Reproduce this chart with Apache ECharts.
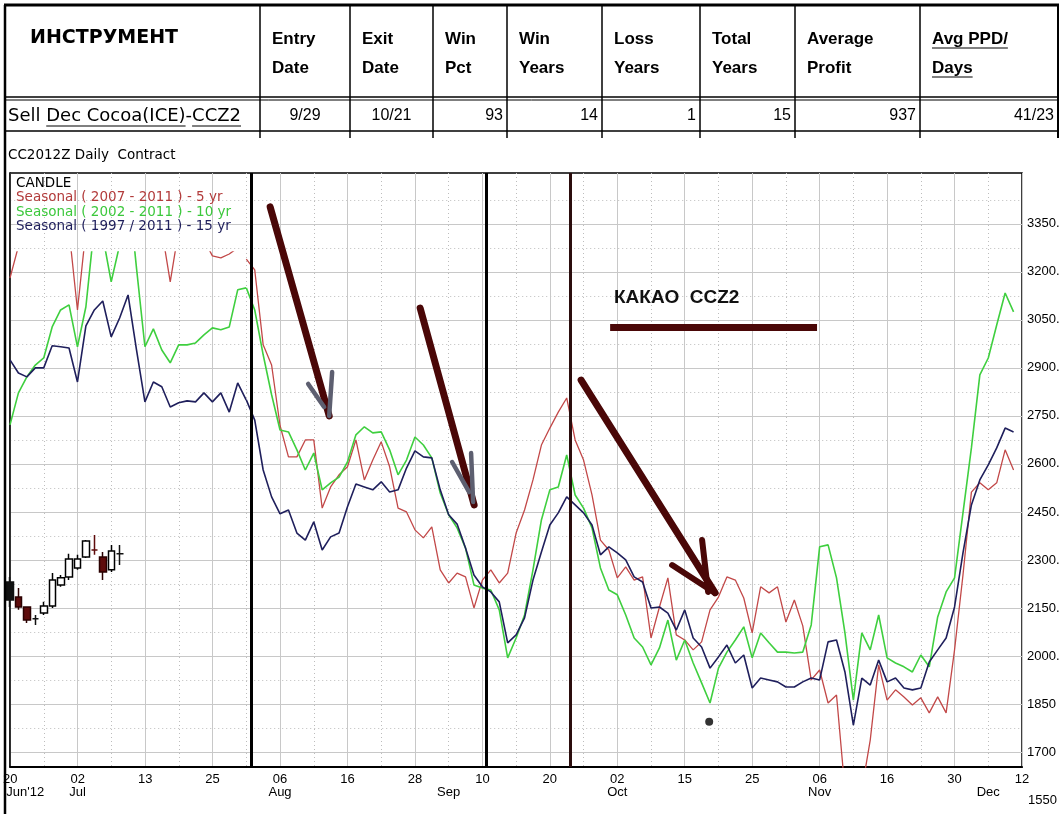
<!DOCTYPE html>
<html><head><meta charset="utf-8">
<script src="https://cdn.jsdelivr.net/npm/echarts@6/dist/echarts.min.js"></script>
<style>html,body{margin:0;padding:0;background:#fff}#c{width:1063px;height:814px}</style>
</head><body><div id="c"></div>
<script>
// ---------------- data ----------------
const tableHeaderTop = ['ИНСТРУМЕНТ','Entry','Exit','Win','Win','Loss','Total','Average','Avg PPD/'];
const tableHeaderBottom = ['','Date','Date','Pct','Years','Years','Years','Profit','Days'];
const tableRow = ['Sell Dec Cocoa(ICE)-CCZ2','9/29','10/21','93','14','1','15','937','41/23'];
const tableRowAlign = ['left','center','center','right','right','right','right','right','right'];

const chartTitle = 'CC2012Z Daily  Contract';
const legendItems = ['CANDLE','Seasonal ( 2007 - 2011 ) - 5 yr','Seasonal ( 2002 - 2011 ) - 10 yr','Seasonal ( 1997 / 2011 ) - 15 yr'];
const noteText = 'КАКАО  CCZ2';

const dayTickLabels = ['20','02','13','25','06','16','28','10','20','02','15','25','06','16','30','12'];
const monthLabels = ["Jun'12",'Jul','Aug','Sep','Oct','Nov','Dec'];
const monthPositions = [0, 8, 32, 52, 72, 96, 116];
const yTickValues = [1700,1850,2000,2150,2300,2450,2600,2750,2900,3050,3200,3350];
const yTickLabels = ['1700','1850','2000.','2150.','2300.','2450.','2600.','2750.','2900.','3050.','3200.','3350.'];
const yMinorValues = [1775,1925,2075,2225,2375,2525,2675,2825,2975,3125,3275,3425];
const yBelowValue = 1550, yBelowLabel = '1550';

// candles: [open, close, low, high], day index from 0 (Jun 20)
const candleData = [
 [2231,2175,2153,2247],[2184,2153,2144,2212],[2153,2112,2103,2153],[2116,2116,2097,2128],
 [2134,2156,2128,2169],[2156,2237,2150,2259],[2222,2244,2216,2253],[2247,2303,2237,2319],
 [2275,2303,2269,2316],[2309,2359,2306,2362],[2331,2331,2316,2378],[2309,2262,2237,2325],
 [2269,2328,2262,2347],[2319,2319,2284,2347]
];

// seasonal lines, left panel (day 0..28)
const red5Left = [3181,3280,3450,3450,3450,3450,3400,3330,3081,3330,3450,3450,3450,3450,3450,3450,3450,3450,3330,3169,3330,3450,3450,3300,3250,3244,3256,3275,3300];
const green10Left = [2722,2822,2872,2909,2931,3028,3081,3097,2966,3091,3344,3312,3169,3284,3472,3212,2966,3022,2956,2916,2972,2972,2978,3003,3025,3019,3028,3144,3150];
const navy15Left = [2925,2884,2872,2900,2900,2969,2966,2962,2856,3031,3081,3109,2997,3056,3128,2956,2794,2856,2841,2778,2791,2797,2794,2822,2794,2822,2762,2853,2800];

// seasonal lines, main panel (day 28..119)
const mainStart = 28;
const red5Main = [3240,3206,2972,2909,2720,2622,2622,2675,2675,2462,
 2528,2566,2591,2675,2550,2612,2669,2591,2462,2450,
 2394,2369,2403,2269,2228,2259,2247,2150,2237,2269,
 2228,2259,2384,2456,2550,2659,2712,2762,2806,2675,
 2612,2503,2362,2331,2244,2278,2237,2247,2056,2153,
 2244,2066,2050,2019,2044,2144,2184,2247,2237,2181,
 2072,2216,2197,2216,2106,2175,2094,1925,1956,1853,
 1878,1581,1550,1581,1737,1972,1862,1894,1872,1847,
 1869,1822,1872,1822,2019,2253,2512,2541,2519,2541,
 2644,2581];
const green10Main = [3150,3081,2941,2816,2706,2700,2644,2581,2634,2519,
 2541,2559,2606,2691,2716,2697,2700,2644,2566,2612,
 2684,2659,2619,2509,2441,2400,2337,2222,2212,2206,
 2144,1994,2056,2128,2269,2425,2519,2528,2628,2503,
 2462,2400,2275,2206,2191,2128,2056,2028,1972,2025,
 2112,1987,2050,1978,1916,1853,1962,2012,2050,2091,
 1994,2072,2041,2012,2012,2009,2012,2097,2341,2347,
 2244,2072,1862,2072,2019,2128,1994,1978,1966,1950,
 2003,1966,2122,2200,2244,2447,2650,2878,2931,3034,
 3134,3075];
const navy15Main = [2800,2737,2581,2497,2444,2456,2384,2362,2419,2331,
 2372,2384,2466,2537,2528,2519,2544,2512,2519,2587,
 2641,2622,2619,2519,2441,2412,2337,2253,2216,2200,
 2169,2041,2066,2119,2237,2325,2409,2447,2497,2472,
 2447,2409,2316,2341,2322,2300,2247,2231,2150,2153,
 2134,2081,2144,2056,2028,1962,1997,2034,1978,2003,
 1900,1931,1925,1919,1903,1903,1919,1931,1925,2044,
 2050,1950,1784,1931,1909,1987,1919,1931,1900,1894,
 1900,1981,2019,2056,2153,2322,2472,2550,2597,2650,
 2712,2700];

// annotations (in day-index / price units)
const verticalMarkers = [28.6, 56.5, 66.45];
const arrowShafts = [[30.83,3403,37.83,2750],[48.62,3087,55.02,2472],[67.71,2862,83.6,2197]];
const arrowHeadsGray = [[38.18,2887,37.83,2750],[35.34,2850,37.23,2778],[54.66,2634,54.9,2481],[52.41,2606,54.43,2512]];
const arrowHeadsDark = [[82.06,2362,82.77,2200],[78.5,2284,83.6,2197]];
const noteBar = [71.15, 95.69, 3028];
const dotPoint = [82.9, 1794];

// ---------------- layout ----------------
const W = 1063, H = 814;
const GL = 10, GT = 173, GR = 41, GB = 47;
const X_MAX = 120, Y_MIN = 1653, Y_MAX = 3509;
const plotW = W - GL - GR, plotH = H - GT - GB;
const LEFT_END = 28, LEFT_TOP = 252;
const leftW = plotW * LEFT_END / X_MAX;
const leftH = H - GB - LEFT_TOP;
const leftYMax = Y_MIN + (Y_MAX - Y_MIN) * leftH / plotH;

const C_RED = '#c24848', C_GREEN = '#3fcf3f', C_NAVY = '#1f1f5c', C_MAROON = '#4a0707', C_GRAYHEAD = '#5d5f70';
const GRID_C = '#c8c8c8';
const F_TH = 'bold 17px "Liberation Sans", Arial, sans-serif';
const F_TH0 = 'bold 19px "DejaVu Sans", sans-serif';
const F_TD = '16px "Liberation Sans", Arial, sans-serif';
const F_TD0 = '18px "DejaVu Sans", sans-serif';
const F_SMALL = '13.5px "DejaVu Sans", sans-serif';

const mctx = document.createElement('canvas').getContext('2d');
function tw(t, f) { mctx.font = f; return mctx.measureText(t).width; }

const g = []; let gid = 0;
function gl(x1,y1,x2,y2,w,c){ g.push({id:'g'+(gid++),type:'line',silent:true,z:100,shape:{x1,y1,x2,y2},style:{stroke:c||'#000',lineWidth:w}}); }
function gt(s,x,y,f,c,a){ g.push({id:'g'+(gid++),type:'text',silent:true,z:100,x:x,y:y,style:{text:s,font:f,fill:c||'#000',textAlign:a||'left',textVerticalAlign:'middle'}}); }

// table
const cols = [5, 260, 350, 433, 507, 602, 700, 795, 920, 1058];
const T_TOP = 5, T_HB = 97, T_RB = 131, T_STUB = 138;
gl(4, T_TOP, 1059, T_TOP, 3);
gl(5, T_TOP, 5, H, 2.5);
gl(1058, T_TOP, 1058, T_STUB, 2);
gl(5, T_HB, 1058, T_HB, 1.5);
gl(5, T_HB + 3, 1058, T_HB + 3, 1);
gl(5, T_RB, 1058, T_RB, 1.5);
for (let c = 1; c < cols.length - 1; c++) gl(cols[c], T_TOP, cols[c], T_STUB, 1.5);
gt(tableHeaderTop[0], 30, 38, F_TH0);
for (let c = 1; c < tableHeaderTop.length; c++) {
  gt(tableHeaderTop[c], cols[c] + 12, 39, F_TH);
  gt(tableHeaderBottom[c], cols[c] + 12, 68, F_TH);
}
{ const c = 8; const x = cols[c] + 12;
  gl(x, 48, x + tw(tableHeaderTop[c], F_TH), 48, 1);
  gl(x, 77, x + tw(tableHeaderBottom[c], F_TH), 77, 1); }
for (let c = 0; c < tableRow.length; c++) {
  const a = tableRowAlign[c];
  const x = a === 'left' ? 8 : a === 'center' ? (cols[c] + cols[c+1]) / 2 : cols[c+1] - 4;
  gt(tableRow[c], x, 116, c === 0 ? F_TD0 : F_TD, '#000', a);
}
{ const s = tableRow[0]; const i1 = s.indexOf('Dec'), i2 = s.indexOf('-'), x0 = 8;
  gl(x0 + tw(s.slice(0,i1),F_TD0), 126, x0 + tw(s.slice(0,i2),F_TD0), 126, 1);
  gl(x0 + tw(s.slice(0,i2+1),F_TD0), 126, x0 + tw(s,F_TD0), 126, 1); }

// title & legend
gt(chartTitle, 8, 155, F_SMALL);
const legendColors = ['#000', '#b23b3b', '#3cc83c', '#1f1f5c'];
legendItems.forEach((s, i) => gt(s, 16, 183 + i * 14.5, F_SMALL, legendColors[i]));
gt(noteText, 614, 298, 'bold 19px "Liberation Sans", Arial, sans-serif', '#111');

// ---------------- chart ----------------
const chart = echarts.init(document.getElementById('c'), null, {renderer: 'canvas'});

const candleItems = candleData.map((c, i) => {
  const item = {value: [i, c[0], c[1], c[2], c[3]]};
  let col = null;
  if (i === 0) col = '#111';
  if (c[0] === c[1]) col = (i === 10) ? '#5e0b0b' : '#111';
  if (col) item.itemStyle = {color: col, color0: col, borderColor: col, borderColor0: col, borderColorDoji: col};
  return item;
});

function pairs(arr, start) { return arr.map((v, k) => [start + k, v]); }
function seg(a, col, w, cap) { return [{coord: [a[0], a[1]], lineStyle: {color: col, width: w, type: 'solid', cap: cap || 'round'}}, {coord: [a[2], a[3]]}]; }

const markData = [];
verticalMarkers.forEach((x, i) => markData.push([{coord: [x, Y_MIN], lineStyle: {color: i === 2 ? '#2b0d0d' : '#000', width: 3, type: 'solid', cap: 'butt'}}, {coord: [x, Y_MAX]}]));
arrowShafts.forEach(a => markData.push(seg(a, C_MAROON, 7)));
arrowHeadsGray.forEach(a => markData.push(seg(a, C_GRAYHEAD, 4.5)));
arrowHeadsDark.forEach(a => markData.push(seg(a, C_MAROON, 6)));
markData.push(seg([noteBar[0], noteBar[2], noteBar[1], noteBar[2]], C_MAROON, 7, 'butt'));

const lineBase = {type: 'line', showSymbol: false, symbol: 'none', silent: true, animation: false};

const option = {
  animation: false,
  backgroundColor: '#fff',
  grid: [
    {left: GL, top: GT, width: plotW, height: plotH, show: true, borderColor: '#000', borderWidth: 1.5, containLabel: false},
    {left: GL, top: LEFT_TOP, width: leftW, height: leftH, show: false, containLabel: false}
  ],
  xAxis: [
    {type: 'value', gridIndex: 0, min: 0, max: X_MAX, interval: 8,
     axisLine: {show: true, lineStyle: {color: '#000', width: 2}}, axisTick: {show: false},
     axisLabel: {color: '#000', fontSize: 13, fontFamily: '"Liberation Sans", Arial, sans-serif', margin: 6,
       formatter: v => dayTickLabels[Math.round(v / 8)]},
     splitLine: {show: true, lineStyle: {color: GRID_C, width: 1}},
     minorTick: {show: false, splitNumber: 2},
     minorSplitLine: {show: true, lineStyle: {color: '#bdbdbd', width: 1, type: [1, 3]}}},
    {type: 'value', gridIndex: 0, min: 0, max: X_MAX, position: 'bottom',
     axisLine: {show: false}, axisTick: {show: false}, splitLine: {show: false},
     axisLabel: {customValues: monthPositions, color: '#000', fontSize: 13, fontFamily: '"Liberation Sans", Arial, sans-serif', margin: 19,
       formatter: v => { const k = monthPositions.indexOf(v); return k === 0 ? '{first|' + monthLabels[0] + '}' : (monthLabels[k] || ''); },
       rich: {first: {fontSize: 13, fontFamily: '"Liberation Sans", Arial, sans-serif', color: '#000', padding: [0, 0, 0, 30]}}}},
    {type: 'value', gridIndex: 1, min: 0, max: LEFT_END, show: false}
  ],
  yAxis: [
    {type: 'value', gridIndex: 0, min: Y_MIN, max: Y_MAX, position: 'right',
     axisLine: {show: true, lineStyle: {color: '#000', width: 1.5}},
     axisTick: {show: false, customValues: yTickValues},
     axisLabel: {customValues: yTickValues, color: '#000', fontSize: 13, fontFamily: '"Liberation Sans", Arial, sans-serif', margin: 5,
       formatter: v => yTickLabels[yTickValues.indexOf(v)] || ''},
     splitLine: {show: true, lineStyle: {color: GRID_C, width: 1}}},
    {type: 'value', gridIndex: 0, min: Y_MIN, max: Y_MAX, position: 'right',
     axisLine: {show: false}, axisLabel: {show: false},
     axisTick: {show: false, customValues: yMinorValues},
     splitLine: {show: true, lineStyle: {color: '#bdbdbd', width: 1, type: [1, 3]}}},
    {type: 'value', gridIndex: 1, min: Y_MIN, max: leftYMax, show: false}
  ],
  series: [
    Object.assign({}, lineBase, {name: 'red5L', xAxisIndex: 2, yAxisIndex: 2, data: pairs(red5Left, 0), lineStyle: {color: C_RED, width: 1.3}, z: 3}),
    Object.assign({}, lineBase, {name: 'green10L', xAxisIndex: 2, yAxisIndex: 2, data: pairs(green10Left, 0), lineStyle: {color: C_GREEN, width: 1.6}, z: 3}),
    Object.assign({}, lineBase, {name: 'navy15L', xAxisIndex: 2, yAxisIndex: 2, data: pairs(navy15Left, 0), lineStyle: {color: C_NAVY, width: 1.6}, z: 3}),
    Object.assign({}, lineBase, {name: 'red5', xAxisIndex: 0, yAxisIndex: 0, data: pairs(red5Main, mainStart), lineStyle: {color: C_RED, width: 1.3}, z: 3}),
    Object.assign({}, lineBase, {name: 'green10', xAxisIndex: 0, yAxisIndex: 0, data: pairs(green10Main, mainStart), lineStyle: {color: C_GREEN, width: 1.6}, z: 3}),
    Object.assign({}, lineBase, {name: 'navy15', xAxisIndex: 0, yAxisIndex: 0, data: pairs(navy15Main, mainStart), lineStyle: {color: C_NAVY, width: 1.6}, z: 3}),
    {type: 'candlestick', name: 'CANDLE', xAxisIndex: 0, yAxisIndex: 0, data: candleItems, encode: {x: 0, y: [1, 2, 3, 4]},
     barWidth: 7, clip: false, silent: true, animation: false, z: 4,
     itemStyle: {color: '#fff', color0: '#5e0b0b', borderColor: '#000', borderColor0: '#2a0000', borderColorDoji: '#111', borderWidth: 1.5}},
    Object.assign({}, lineBase, {name: 'annot', xAxisIndex: 0, yAxisIndex: 0, data: [], z: 5,
     markLine: {silent: true, animation: false, symbol: ['none', 'none'], label: {show: false}, emphasis: {disabled: true}, data: markData}}),
    {type: 'scatter', name: 'dot', xAxisIndex: 0, yAxisIndex: 0, data: [dotPoint], symbolSize: 8, itemStyle: {color: '#000'}, silent: true, animation: false, z: 6}
  ],
  graphic: g
};
chart.setOption(option);

// the 1550 label sits one step below the plotted range
const pY = chart.convertToPixel({yAxisIndex: 0}, yBelowValue);
const pX = chart.convertToPixel({xAxisIndex: 0}, X_MAX);
chart.setOption({graphic: [{id: 'lbl1550', type: 'text', silent: true, z: 100, x: pX + 6, y: pY,
  style: {text: yBelowLabel, font: '13px "Liberation Sans", Arial, sans-serif', fill: '#000', textAlign: 'left', textVerticalAlign: 'middle'}}]});
</script>
</body></html>
